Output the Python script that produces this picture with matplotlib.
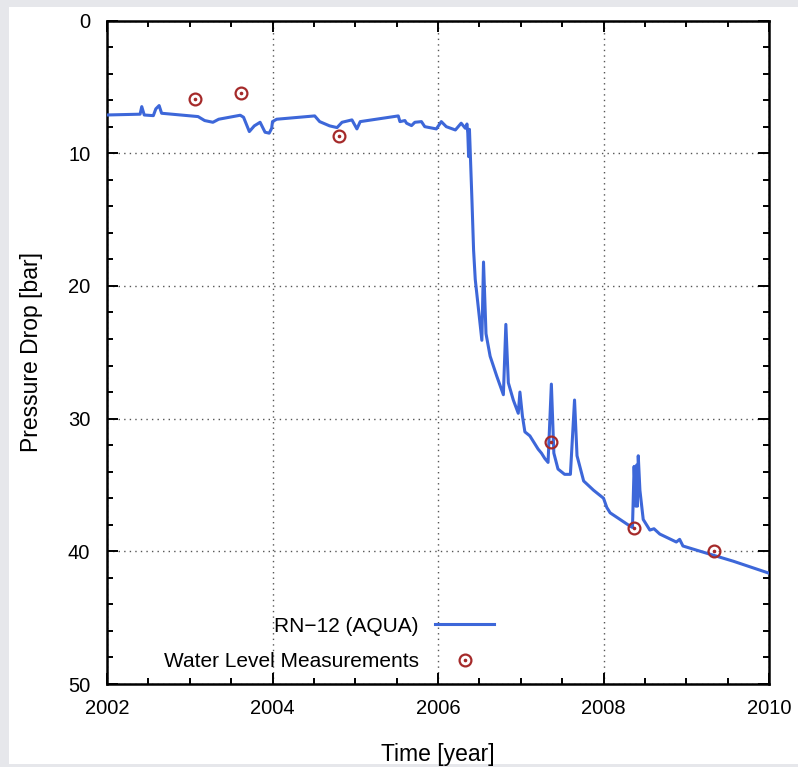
import matplotlib
matplotlib.use("Agg")
import matplotlib.pyplot as plt
from matplotlib.ticker import MultipleLocator
from matplotlib.patches import Rectangle
from matplotlib.legend_handler import HandlerTuple

plt.rcParams['font.family'] = ['Liberation Sans', 'DejaVu Sans']

# simulated pressure drop (RN-12, AQUA)
sim_year = [2002.00, 2002.40, 2002.42, 2002.45, 2002.56, 2002.59, 2002.63, 2002.66,
            2003.10, 2003.18, 2003.28, 2003.35, 2003.61, 2003.65, 2003.72, 2003.78,
            2003.85, 2003.91, 2003.96, 2003.99, 2004.00, 2004.05, 2004.51, 2004.57,
            2004.69, 2004.78, 2004.84, 2004.96, 2005.02, 2005.06, 2005.52, 2005.54,
            2005.60, 2005.62, 2005.68, 2005.72, 2005.80, 2005.84, 2005.98, 2006.04,
            2006.10, 2006.21, 2006.28, 2006.33, 2006.35, 2006.36, 2006.37, 2006.38,
            2006.41, 2006.43, 2006.45, 2006.49, 2006.53, 2006.55, 2006.58, 2006.63,
            2006.71, 2006.79, 2006.82, 2006.85, 2006.91, 2006.97, 2006.99, 2007.02,
            2007.05, 2007.11, 2007.21, 2007.25, 2007.29, 2007.33, 2007.37, 2007.40,
            2007.45, 2007.53, 2007.60, 2007.65, 2007.68, 2007.76, 2007.88, 2008.00,
            2008.04, 2008.08, 2008.20, 2008.32, 2008.35, 2008.37, 2008.39, 2008.40,
            2008.41, 2008.42, 2008.44, 2008.48, 2008.56, 2008.61, 2008.68, 2008.88,
            2008.92, 2008.96, 2009.17, 2009.57, 2010.00]
sim_drop = [7.12, 7.06, 6.49, 7.12, 7.17, 6.66, 6.41, 6.99,
            7.24, 7.54, 7.67, 7.44, 7.14, 7.29, 8.37, 7.94,
            7.67, 8.42, 8.49, 8.12, 7.62, 7.44, 7.19, 7.62,
            7.94, 8.07, 7.67, 7.49, 8.17, 7.62, 7.19, 7.62,
            7.54, 7.74, 7.92, 7.67, 7.62, 8.00, 8.17, 7.62,
            8.00, 8.25, 7.74, 8.12, 7.80, 8.49, 10.26, 8.20,
            13.5, 17.3, 19.5, 21.8, 24.1, 18.2, 23.6, 25.3,
            26.8, 28.2, 22.9, 27.3, 28.6, 29.6, 28.0, 29.8,
            31.0, 31.3, 32.3, 32.6, 33.0, 33.3, 27.4, 32.6,
            33.8, 34.2, 34.2, 28.6, 32.8, 34.7, 35.4, 36.0,
            36.7, 37.1, 37.6, 38.1, 38.2, 33.6, 36.6, 33.5,
            36.6, 32.8, 35.4, 37.6, 38.4, 38.3, 38.7, 39.3,
            39.1, 39.6, 40.0, 40.75, 41.65]

# water level measurements
meas_year = [2003.06, 2003.62, 2004.80, 2007.37, 2008.37, 2009.33]
meas_drop = [5.9, 5.5, 8.67, 31.8, 38.24, 39.95]

line_color = '#3d67d9'
mark_color = '#a52a2a'

fig = plt.figure(figsize=(7.98, 7.67), dpi=100)
fig.patch.set_facecolor('#e6e7eb')
fig.patches.append(Rectangle((9 / 798, 1 - 764 / 767), 789 / 798, 757 / 767,
                             transform=fig.transFigure, facecolor='white',
                             edgecolor='none', zorder=-10))

ax = fig.add_axes([107 / 798, 1 - 684 / 767, 662 / 798, 663.5 / 767])

sim_line, = ax.plot(sim_year, sim_drop, color=line_color, lw=2.2, zorder=3)
rings, = ax.plot(meas_year, meas_drop, 'o', ms=8.5, mfc='none', mec=mark_color,
                 mew=1.6, zorder=4)
dots, = ax.plot(meas_year, meas_drop, 'o', ms=1.6, color=mark_color, zorder=4)

ax.set_xlim(2002, 2010)
ax.set_ylim(50, 0)
ax.xaxis.set_major_locator(MultipleLocator(2))
ax.xaxis.set_minor_locator(MultipleLocator(0.5))
ax.yaxis.set_major_locator(MultipleLocator(10))
ax.yaxis.set_minor_locator(MultipleLocator(2))
ax.tick_params(which='both', direction='in', top=True, right=True,
               width=1.4, labelsize=14.5, colors='black')
ax.tick_params(which='major', length=8, pad=11)
ax.tick_params(which='minor', length=4.5)
ax.tick_params(axis='y', which='major', pad=12)
for s in ax.spines.values():
    s.set_linewidth(1.8)

ax.grid(True, which='major', color='#555555', linestyle=(0, (1, 3)), lw=1.0)

ax.set_xlabel('Time [year]', fontsize=16.5, labelpad=18)
ax.set_ylabel('Pressure Drop [bar]', fontsize=16.5, labelpad=18)

leg = ax.legend([sim_line, (rings, dots)],
                ['RN\u221212 (AQUA)', 'Water Level Measurements'],
                handler_map={tuple: HandlerTuple(ndivide=1)},
                loc='lower center', bbox_to_anchor=(0.335, -0.009),
                markerfirst=False, frameon=False, fontsize=15,
                handlelength=2.8, handletextpad=0.8, labelspacing=0.8)
for t in leg.get_texts():
    t.set_ha('right')

fig.savefig('out.png', dpi=100, facecolor=fig.get_facecolor())
